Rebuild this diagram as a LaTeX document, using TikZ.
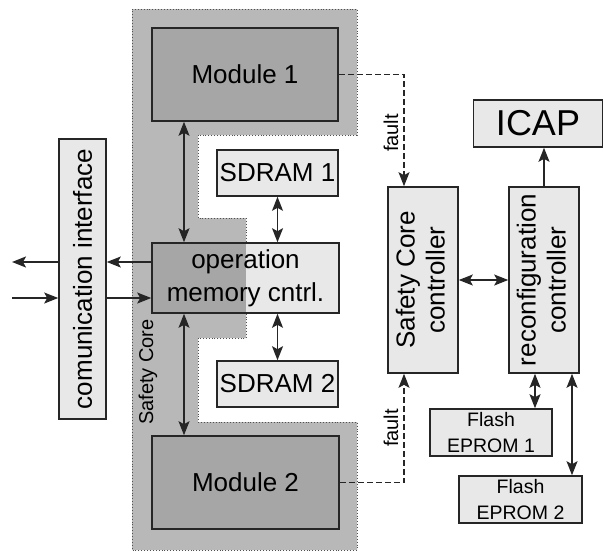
\documentclass[tikz,border=0pt]{standalone}
\usepackage{fontspec}
\setmainfont{Liberation Sans}
\usetikzlibrary{arrows.meta}
\definecolor{boxfill}{HTML}{E8E8E8}
\definecolor{corefill}{HTML}{B8B8B8}
\definecolor{modfill}{HTML}{A6A6A6}
\definecolor{edge}{HTML}{262626}
\tikzset{bigtip/.tip={Stealth[length=14pt,width=11pt,inset=3pt]}}
\begin{document}
\begin{tikzpicture}[x=1pt,y=-1pt,
  box/.style={draw=edge, fill=boxfill, line width=1.6pt, inner sep=0pt, align=center,
    font=\fontsize{26}{33}\selectfont, text=black},
  modbox/.style={box, fill=modfill},
  conn/.style={draw=edge, line width=1.6pt},
  toarrow/.style={conn, -{bigtip}},
  biarrow/.style={conn, {bigtip}-{bigtip}},
  faultline/.style={draw=edge, line width=1.4pt, dash pattern=on 6pt off 3pt, -{bigtip}},
  smalltext/.style={font=\fontsize{20}{26}\selectfont, inner sep=0pt, text=black},
  flashbox/.style={box, font=\fontsize{19.5}{26}\selectfont},
  core/.style={fill=corefill, draw=edge!80, line width=0.9pt, dotted}
]
\useasboundingbox (0,0) rectangle (604,552);

% Safety Core region
\path[core] (132,9) -- (357,9) -- (357,135) -- (198,135) -- (198,218) -- (246,218)
  -- (246,338) -- (198,338) -- (198,422) -- (357,422) -- (357,550) -- (132,550) -- cycle;
\node[smalltext, rotate=90] (corelabel) at (148,372) {Safety Core};

% Modules
\node[modbox, minimum width=186pt, minimum height=93pt] (mod1) at (245,74.5) {Module 1};
\node[modbox, minimum width=187pt, minimum height=93pt] (mod2) at (245.5,482.5) {Module 2};

% operation memory controller
\fill[boxfill] (152,243) rectangle (339,313);
\fill[modfill] (152,243) rectangle (246,313);
\node[box, fill=none, minimum width=187pt, minimum height=70pt] (opmem) at (245.5,278)
  {operation\\memory cntrl.};

% SDRAMs
\node[box, minimum width=121pt, minimum height=46pt] (sd1) at (277.5,173) {SDRAM 1};
\node[box, minimum width=121pt, minimum height=46pt] (sd2) at (277.5,384) {SDRAM 2};

% communication interface
\node[box, minimum width=47pt, minimum height=280pt] (comm) at (82.5,279)
  {\rotatebox{90}{comunication interface}};

% controllers
\node[box, minimum width=70pt, minimum height=186pt] (scc) at (423,280)
  {\rotatebox{90}{\begin{tabular}{@{}c@{}}Safety Core\\[-3pt]controller\end{tabular}}};
\node[box, minimum width=70pt, minimum height=186pt] (rc) at (544,280)
  {\rotatebox{90}{\begin{tabular}{@{}c@{}}reconfiguration\\[-3pt]controller\end{tabular}}};

\node[box, minimum width=129pt, minimum height=47pt, font=\fontsize{36}{40}\selectfont] (icap) at (538,123.5) {ICAP};

\node[flashbox, minimum width=122pt, minimum height=47pt] (fl1) at (491,432.5) {Flash\\EPROM 1};
\node[flashbox, minimum width=123pt, minimum height=47pt] (fl2) at (520.5,499.5) {Flash\\EPROM 2};

% helper coordinates
\coordinate (xa) at (184,0);
\coordinate (ya) at (0,262);
\coordinate (yb) at (0,298);
\coordinate (outL) at (12,262);
\coordinate (inL) at (12,298);
\coordinate (xf) at (404,0);
\coordinate (xf1) at (535,0);
\coordinate (xf2) at (572,0);

% connectors
\draw[biarrow] (mod1.south -| xa) -- (opmem.north -| xa);
\draw[biarrow] (opmem.south -| xa) -- (mod2.north -| xa);
\draw[biarrow] (sd1.south) -- (sd1.south |- opmem.north);
\draw[biarrow] (opmem.south -| sd2.north) -- (sd2.north);

\draw[toarrow] (opmem.west |- ya) -- (comm.east |- ya);
\draw[toarrow] (comm.west |- ya) -- (outL);
\draw[toarrow] (inL) -- (comm.west |- inL);
\draw[toarrow] (comm.east |- yb) -- (opmem.west |- yb);

\draw[biarrow] (scc.east) -- (rc.west);
\draw[toarrow] (rc.north) -- (rc.north |- icap.south);
\draw[biarrow] (rc.south -| xf1) -- (fl1.north -| xf1);
\draw[biarrow] (rc.south -| xf2) -- (fl2.north -| xf2);

\draw[faultline] (mod1.east) -| (scc.north -| xf);
\draw[faultline] (mod2.east) -| (scc.south -| xf);
\node[smalltext, rotate=90] (fault1) at (391,133) {fault};
\node[smalltext, rotate=90] (fault2) at (391,428) {fault};
\end{tikzpicture}
\end{document}
